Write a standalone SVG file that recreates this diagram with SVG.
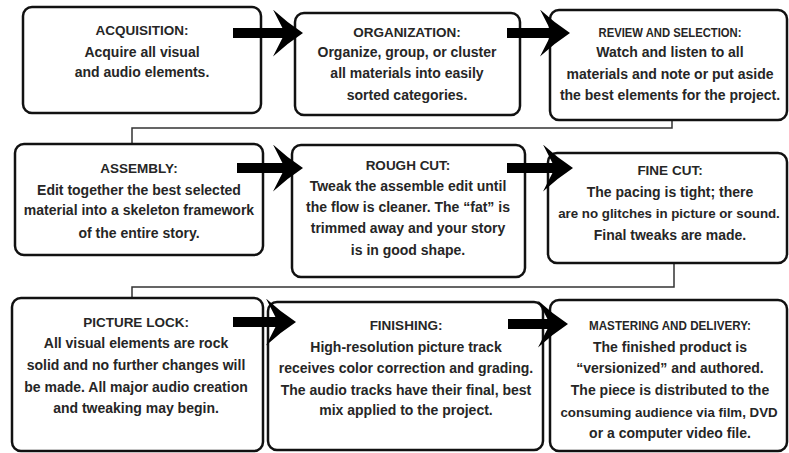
<svg xmlns="http://www.w3.org/2000/svg" width="789" height="453" viewBox="0 0 789 453">
<style>
.box{fill:#fff;stroke:#111;stroke-width:2.5}
.conn{fill:none;stroke:#333;stroke-width:1.5}
.bar{fill:none;stroke:#000;stroke-width:10}
text{font-family:"Liberation Sans",Arial,sans-serif;font-weight:bold;font-size:14px;fill:#262626;text-anchor:middle}
.t{font-size:13.5px}
.tn{font-size:13px}
.s{font-size:13.3px}
</style>
<defs>
<marker id="head" markerUnits="userSpaceOnUse" viewBox="0 0 30 47" refX="14" refY="23.5" markerWidth="30" markerHeight="47" orient="auto">
<path d="M0,0 Q14,13 30,23.5 Q14,34 0,47 L12,23.5 Z" fill="#000"/>
</marker>
</defs>
<g id="connectors">
<path class="conn" d="M672,120 V128 H132 V144"/>
<path class="conn" d="M674,263 V287 H132 V298"/>
</g>
<g id="acquisition">
<rect class="box" x="23" y="7" width="238" height="106" rx="9"/>
<text class="t" x="142" y="34.5">ACQUISITION:</text>
<text x="142" y="56.5">Acquire all visual</text>
<text x="142" y="76.5">and audio elements.</text>
</g>
<g id="organization">
<rect class="box" x="295" y="13" width="225" height="102" rx="9"/>
<text class="t" x="407" y="36.5">ORGANIZATION:</text>
<text x="407" y="56.5">Organize, group, or cluster</text>
<text x="407" y="77.5">all materials into easily</text>
<text x="407" y="99.5">sorted categories.</text>
</g>
<g id="review">
<rect class="box" x="550" y="10" width="237" height="110" rx="9"/>
<text class="tn" x="670" y="36.5" textLength="143" lengthAdjust="spacingAndGlyphs">REVIEW AND SELECTION:</text>
<text x="670" y="56.5">Watch and listen to all</text>
<text x="670" y="78.5">materials and note or put aside</text>
<text x="670" y="99.5">the best elements for the project.</text>
</g>
<g id="assembly">
<rect class="box" x="15" y="144" width="248" height="111" rx="9"/>
<text class="t" x="139" y="172.5">ASSEMBLY:</text>
<text x="139" y="194.5">Edit together the best selected</text>
<text x="139" y="214.5">material into a skeleton framework</text>
<text x="139" y="237.5">of the entire story.</text>
</g>
<g id="roughcut">
<rect class="box" x="292" y="145" width="233" height="132" rx="9"/>
<text class="t" x="408" y="169.5">ROUGH CUT:</text>
<text x="408" y="190.5">Tweak the assemble edit until</text>
<text x="408" y="211.5">the flow is cleaner. The “fat” is</text>
<text x="408" y="232.5">trimmed away and your story</text>
<text x="408" y="254.5">is in good shape.</text>
</g>
<g id="finecut">
<rect class="box" x="548" y="153" width="239" height="110" rx="9"/>
<text class="t" x="670" y="174.5">FINE CUT:</text>
<text x="670" y="196.5">The pacing is tight; there</text>
<text class="s" x="669" y="217.5">are no glitches in picture or sound.</text>
<text x="670" y="239.5">Final tweaks are made.</text>
</g>
<g id="picturelock">
<rect class="box" x="12" y="298" width="251" height="153" rx="9"/>
<text class="t" x="136" y="326.5">PICTURE LOCK:</text>
<text x="136" y="347.5">All visual elements are rock</text>
<text x="136" y="369.5">solid and no further changes will</text>
<text x="136" y="391.5">be made. All major audio creation</text>
<text x="136" y="412.5">and tweaking may begin.</text>
</g>
<g id="finishing">
<rect class="box" x="268" y="302" width="275" height="148" rx="9"/>
<text class="t" x="406" y="329.5">FINISHING:</text>
<text x="406" y="351.5">High-resolution picture track</text>
<text x="406" y="372.5">receives color correction and grading.</text>
<text x="406" y="394.5">The audio tracks have their final, best</text>
<text x="406" y="414.5">mix applied to the project.</text>
</g>
<g id="mastering">
<rect class="box" x="550" y="300" width="237" height="151" rx="9"/>
<text class="tn" x="670" y="329.5" textLength="162" lengthAdjust="spacingAndGlyphs">MASTERING AND DELIVERY:</text>
<text x="670" y="351.5">The finished product is</text>
<text x="670" y="372.5">“versionized” and authored.</text>
<text x="670" y="394.5">The piece is distributed to the</text>
<text class="s" x="669" y="416.5">consuming audience via film, DVD</text>
<text x="670" y="437.5">or a computer video file.</text>
</g>
<g id="arrows">
<path class="bar" d="M233,33 H287" marker-end="url(#head)"/>
<path class="bar" d="M507,33 H554" marker-end="url(#head)"/>
<path class="bar" d="M237,168 H287" marker-end="url(#head)"/>
<path class="bar" d="M507,168 H557" marker-end="url(#head)"/>
<path class="bar" d="M233,322 H280" marker-end="url(#head)"/>
<path class="bar" d="M508,324 H552" marker-end="url(#head)"/>
</g>
</svg>
